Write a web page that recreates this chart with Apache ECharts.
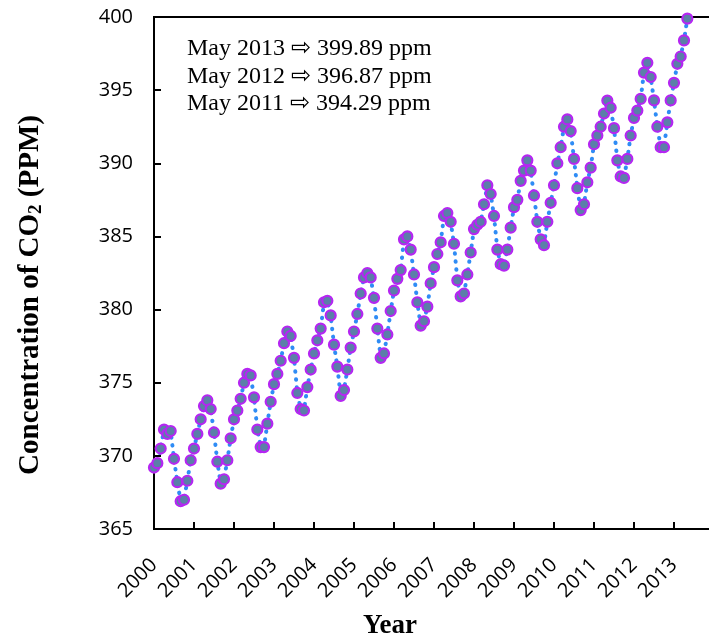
<!DOCTYPE html>
<html>
<head>
<meta charset="utf-8">
<script src="https://cdn.jsdelivr.net/npm/echarts@6/dist/echarts.min.js"></script>
<style>
  html, body { margin: 0; padding: 0; background: #fff; }
  #chart { width: 709px; height: 641px; }
</style>
</head>
<body>
<div id="chart"></div>
<script>
// monthly CO2 (ppm), Jan..Dec of each year
var startYear = 2000;
var co2_2000 = [369.2, 369.5, 370.5, 371.8, 371.5, 371.7, 369.8, 368.2, 366.9, 367.0, 368.3, 369.7];
var co2_2001 = [370.5, 371.5, 372.5, 373.4, 373.8, 373.2, 371.6, 369.6, 368.1, 368.4, 369.7, 371.2];
var co2_2002 = [372.5, 373.1, 373.9, 375.0, 375.6, 375.5, 374.0, 371.8, 370.6, 370.6, 372.2, 373.7];
var co2_2003 = [374.9, 375.6, 376.5, 377.7, 378.5, 378.2, 376.7, 374.3, 373.2, 373.1, 374.7, 375.9];
var co2_2004 = [377.0, 377.9, 378.7, 380.5, 380.6, 379.6, 377.6, 376.1, 374.1, 374.5, 375.9, 377.4];
var co2_2005 = [378.5, 379.7, 381.1, 382.2, 382.5, 382.2, 380.8, 378.7, 376.7, 377.0, 378.3, 379.9];
var co2_2006 = [381.3, 382.1, 382.7, 384.8, 385.0, 384.1, 382.4, 380.5, 378.9, 379.2, 380.2, 381.8];
var co2_2007 = [382.9, 383.8, 384.6, 386.4, 386.6, 386.0, 384.5, 382.0, 380.9, 381.1, 382.4, 383.9];
var co2_2008 = [385.5, 385.8, 386.0, 387.2, 388.5, 387.9, 386.4, 384.1, 383.1, 383.0, 384.1, 385.6];
var co2_2009 = [387.0, 387.5, 388.8, 389.5, 390.2, 389.5, 387.8, 386.0, 384.8, 384.4, 386.0, 387.3];
var co2_2010 = [388.5, 390.0, 391.1, 392.5, 393.0, 392.2, 390.3, 388.3, 386.8, 387.2, 388.7, 389.7];
var co2_2011 = [391.3, 391.9, 392.5, 393.4, 394.29, 393.8, 392.4, 390.2, 389.1, 389.0, 390.3, 391.9];
var co2_2012 = [393.1, 393.6, 394.4, 396.2, 396.87, 395.9, 394.3, 392.5, 391.1, 391.1, 392.8, 394.3];
var co2_2013 = [395.5, 396.8, 397.3, 398.4, 399.89];

var yearlyValues = [co2_2000, co2_2001, co2_2002, co2_2003, co2_2004, co2_2005, co2_2006,
  co2_2007, co2_2008, co2_2009, co2_2010, co2_2011, co2_2012, co2_2013];

var notes = [
  "May 2013 \u21E8 399.89 ppm",
  "May 2012 \u21E8 396.87 ppm",
  "May 2011 \u21E8 394.29 ppm"
];

// x = year + month/12
var points = [];
yearlyValues.forEach(function (vals, i) {
  vals.forEach(function (v, m) {
    points.push([startYear + i + m / 12, v]);
  });
});

var chart = echarts.init(document.getElementById("chart"));

var option = {
  animation: false,
  backgroundColor: "#fff",
  grid: {
    left: 154,
    top: 17,
    width: 560,
    bottom: 112,
    outerBoundsMode: "none",
    show: true,
    borderColor: "#000",
    borderWidth: 2
  },
  xAxis: {
    type: "value",
    min: 2000,
    max: 2014,
    interval: 1,
    name: "Year",
    nameLocation: "middle",
    nameGap: 84,
    nameTextStyle: {
      fontFamily: "Liberation Serif",
      fontWeight: "bold",
      fontSize: 27,
      color: "#000",
      padding: [0, 88, 0, 0]
    },
    axisLine: { show: true, lineStyle: { color: "#000", width: 2 } },
    axisTick: { show: true, inside: true, length: 7, lineStyle: { color: "#000", width: 2 } },
    axisLabel: {
      rotate: 45,
      margin: 33,
      fontFamily: "Open Sans",
      fontSize: 20,
      color: "#000",
      showMaxLabel: false,
      formatter: function (v) { return v < 2014 ? String(v) : ""; }
    },
    splitLine: { show: false }
  },
  yAxis: {
    type: "value",
    min: 365,
    max: 400,
    interval: 5,
    name: "Concentration of CO{sub|2} (PPM)",
    nameLocation: "middle",
    nameGap: 108,
    nameTextStyle: {
      fontFamily: "Liberation Serif",
      fontWeight: "bold",
      fontSize: 29,
      color: "#000",
      padding: [0, 44, 0, 0],
      rich: {
        sub: {
          fontFamily: "Liberation Serif",
          fontWeight: "bold",
          fontSize: 19,
          color: "#000",
          verticalAlign: "bottom",
          padding: [12, 0, 0, 0]
        }
      }
    },
    axisLine: { show: true, lineStyle: { color: "#000", width: 2 } },
    axisTick: { show: true, inside: true, length: 7, lineStyle: { color: "#000", width: 2 } },
    axisLabel: {
      margin: 21,
      fontFamily: "Open Sans",
      fontSize: 20,
      color: "#000"
    },
    splitLine: { show: false }
  },
  graphic: [
    {
      type: "text",
      left: 187,
      top: 35,
      style: {
        text: notes.join("\n"),
        fontFamily: "Liberation Serif",
        fontSize: 24,
        lineHeight: 27.5,
        fill: "#000"
      }
    }
  ],
  series: [
    {
      type: "line",
      data: points,
      symbol: "circle",
      symbolSize: 10,
      showSymbol: true,
      itemStyle: {
        color: "#5b7fa8",
        borderColor: "#b526f2",
        borderWidth: 2.2
      },
      lineStyle: {
        color: "#2f8cf5",
        width: 4,
        type: [0.5, 7.5],
        cap: "round"
      },
      emphasis: { disabled: true }
    }
  ]
};

chart.setOption(option);
</script>
</body>
</html>
